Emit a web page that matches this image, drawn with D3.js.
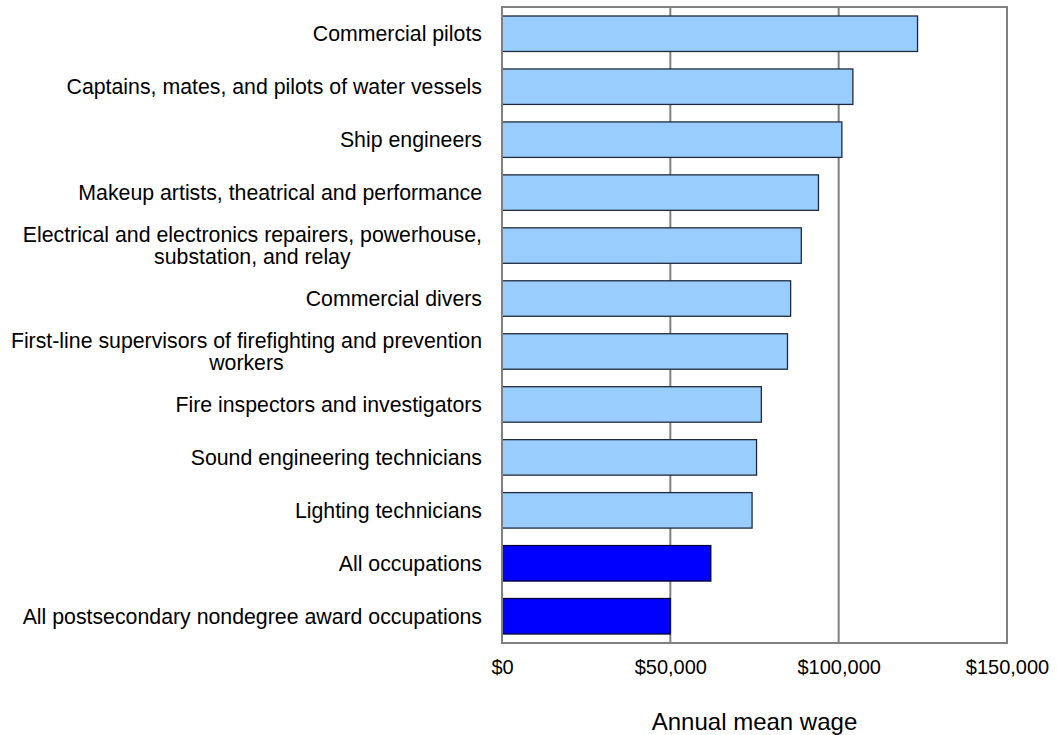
<!DOCTYPE html>
<html>
<head>
<meta charset="utf-8">
<script src="https://cdn.jsdelivr.net/npm/d3@7"></script>
<style>
  body { margin: 0; background: #fff; }
  text { font-family: "Liberation Sans", Arial, sans-serif; fill: #000; }
</style>
</head>
<body>
<div id="chart"></div>
<script>
var occupations = [
    'Commercial pilots',
    'Captains, mates, and pilots of water vessels',
    'Ship engineers',
    'Makeup artists, theatrical and performance',
    'Electrical and electronics repairers, powerhouse, substation, and relay',
    'Commercial divers',
    'First-line supervisors of firefighting and prevention workers',
    'Fire inspectors and investigators',
    'Sound engineering technicians',
    'Lighting technicians',
    'All occupations',
    'All postsecondary nondegree award occupations'
];
var meanWage = [123430, 104220, 100950, 94000, 88900, 85730, 84800, 77040, 75610, 74280, 62020, 49960];
var isTotal = [false, false, false, false, false, false, false, false, false, false, true, true];
var wageTicks = [0, 50000, 100000, 150000];

var width = 1057,
    height = 735;

var margin = { left: 502, right: 50, top: 7, bottom: 92 };
var labelRight = 482;

var svg = d3.select('#chart').append('svg')
    .attr('width', width)
    .attr('height', height);

var x = d3.scaleLinear()
    .domain([0, 150000])
    .range([margin.left, width - margin.right]);

var y = d3.scaleBand()
    .domain(occupations)
    .range([margin.top, height - margin.bottom])
    .paddingInner(0.33)
    .paddingOuter(0.17);

// gridlines
svg.append('g')
    .selectAll('line')
    .data(wageTicks.slice(1, -1))
    .enter().append('line')
    .attr('x1', function (d) { return x(d); })
    .attr('x2', function (d) { return x(d); })
    .attr('y1', margin.top)
    .attr('y2', height - margin.bottom)
    .style('stroke', '#808080')
    .style('stroke-width', 2);

// bars
svg.append('g')
    .selectAll('rect')
    .data(occupations)
    .enter().append('rect')
    .attr('x', x(0))
    .attr('y', function (d) { return y(d); })
    .attr('width', function (d, i) { return x(meanWage[i]) - x(0); })
    .attr('height', y.bandwidth())
    .style('fill', function (d, i) { return isTotal[i] ? '#0000ff' : '#99ccff'; })
    .style('stroke', function (d, i) { return isTotal[i] ? '#000033' : '#1f2a3a'; })
    .style('stroke-width', 1.3);

// plot frame
svg.append('rect')
    .attr('x', margin.left)
    .attr('y', margin.top)
    .attr('width', x(150000) - x(0))
    .attr('height', height - margin.bottom - margin.top)
    .style('fill', 'none')
    .style('stroke', '#808080')
    .style('stroke-width', 2);

// x axis labels
var xAxis = d3.axisBottom(x)
    .tickValues(wageTicks)
    .tickSize(0)
    .tickPadding(17)
    .tickFormat(function (d) { return '$' + d3.format(',')(d); });

var gx = svg.append('g')
    .attr('transform', 'translate(0,' + (height - margin.bottom) + ')')
    .call(xAxis);
gx.select('.domain').remove();
gx.selectAll('text')
    .style('font-size', '20px')
    .style('font-family', '"Liberation Sans", Arial, sans-serif');

svg.append('text')
    .attr('x', x(75000))
    .attr('y', 730)
    .style('text-anchor', 'middle')
    .style('font-size', '24px')
    .text('Annual mean wage');

// category labels, wrapped; lines centred inside a right-aligned block
var labelSize = 21.3;
var probe = svg.append('text').style('font-size', labelSize + 'px');
function textW(s) { probe.text(s); return probe.node().getComputedTextLength(); }

function wrapLines(str, maxW) {
    var words = str.split(' '), lines = [], line = '';
    words.forEach(function (w) {
        var test = line ? line + ' ' + w : w;
        if (textW(test) > maxW && line) {
            lines.push(line);
            line = w;
        } else {
            line = test;
        }
    });
    lines.push(line);
    return lines;
}

var labels = svg.append('g')
    .selectAll('text')
    .data(occupations)
    .enter().append('text')
    .style('font-size', labelSize + 'px');

labels.each(function (d) {
    var lines = wrapLines(d, 482);
    var blockW = d3.max(lines, textW);
    var cx = labelRight - blockW / 2;
    var cy = y(d) + y.bandwidth() / 2;
    var lh = 22;
    var t = d3.select(this);
    lines.forEach(function (ln, k) {
        t.append('tspan')
            .attr('x', lines.length > 1 ? cx : labelRight)
            .attr('y', cy + (k - (lines.length - 1) / 2) * lh)
            .attr('dy', '0.35em')
            .attr('text-anchor', lines.length > 1 ? 'middle' : 'end')
            .text(ln);
    });
});
probe.remove();
</script>
</body>
</html>
